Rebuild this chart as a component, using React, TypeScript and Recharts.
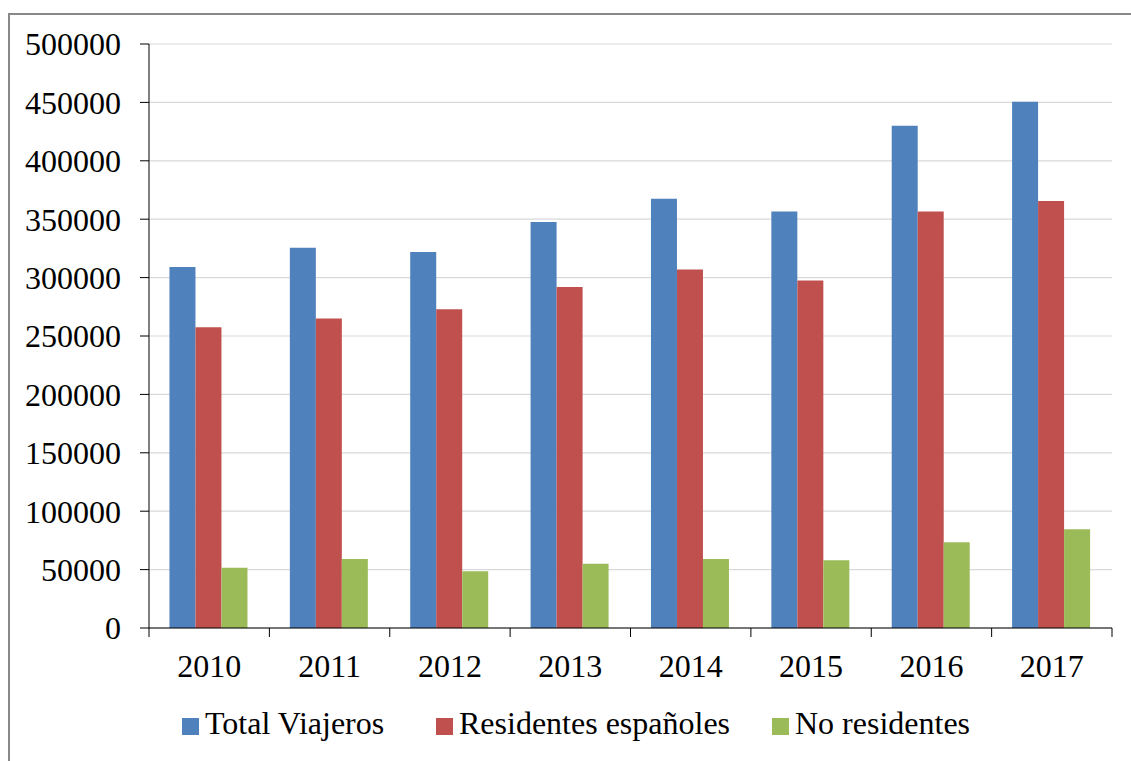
import React from "react";
import { BarChart, Bar, XAxis, YAxis, CartesianGrid } from "recharts";

const years = ["2010", "2011", "2012", "2013", "2014", "2015", "2016", "2017"];
const totalViajeros = [309000, 325500, 322000, 347500, 367500, 356500, 430000, 450500];
const residentesEspanoles = [257500, 265000, 273000, 292000, 307000, 297500, 356500, 365500];
const noResidentes = [51500, 59000, 48500, 55000, 59000, 58000, 73500, 84500];
const yTicks = [0, 50000, 100000, 150000, 200000, 250000, 300000, 350000, 400000, 450000, 500000];

const seriesKeys = ["total", "res", "nores"];
const seriesNames = ["Total Viajeros", "Residentes españoles", "No residentes"];
const seriesColors = ["#4F81BD", "#C0504D", "#9BBB59"];

const data = years.map((y, i) => ({
  year: y,
  total: totalViajeros[i],
  res: residentesEspanoles[i],
  nores: noResidentes[i],
}));

const W = 1131;
const H = 761;
const PLOT_LEFT = 149;
const PLOT_RIGHT = 1112;
const PLOT_TOP = 44;
const PLOT_BOTTOM = 628;
const FONT = "'Liberation Serif', 'Times New Roman', serif";
const FS = 32;
const band = (PLOT_RIGHT - PLOT_LEFT) / years.length;

const XTick = (props: any) => {
  const { x, y, payload, index } = props;
  const lx = x - band / 2;
  const rx = x + band / 2;
  return (
    <g>
      <line x1={lx} x2={lx} y1={PLOT_BOTTOM} y2={PLOT_BOTTOM + 9} stroke="#000" strokeWidth={1} />
      {index === years.length - 1 && (
        <line x1={rx} x2={rx} y1={PLOT_BOTTOM} y2={PLOT_BOTTOM + 9} stroke="#000" strokeWidth={1} />
      )}
      <text x={x} y={y} dy="0.71em" textAnchor="middle" fill="#000" fontSize={FS} fontFamily={FONT}>
        {payload.value}
      </text>
    </g>
  );
};

const legendLefts = [182, 436, 772];

export default function App() {
  return (
    <div style={{ position: "absolute", left: 0, top: 0, width: W, height: H, background: "#fff", overflow: "hidden" }}>
      <div style={{ position: "absolute", left: 8, top: 13, width: W - 8, height: 2, background: "#898989" }} />
      <div style={{ position: "absolute", left: 8, top: 13, width: 2, height: H - 13, background: "#898989" }} />
      <div style={{ position: "absolute", left: 0, top: 0 }}>
        <BarChart
          width={W}
          height={H}
          data={data}
          margin={{ top: PLOT_TOP, right: W - PLOT_RIGHT, left: 0, bottom: 0 }}
          barCategoryGap="17%"
          barGap={0}
        >
          <CartesianGrid vertical={false} stroke="#D9D9D9" strokeWidth={1.2} />
          <XAxis
            dataKey="year"
            height={H - PLOT_BOTTOM}
            tickLine={false}
            tickSize={9}
            tickMargin={17}
            axisLine={{ stroke: "#000", strokeWidth: 1 }}
            tick={<XTick />}
            interval={0}
          />
          <YAxis
            width={PLOT_LEFT}
            domain={[0, 500000]}
            ticks={yTicks}
            interval={0}
            tickSize={9}
            tickMargin={19}
            axisLine={{ stroke: "#000", strokeWidth: 1 }}
            tickLine={{ stroke: "#000", strokeWidth: 1 }}
            tick={{ fill: "#000", fontSize: FS, fontFamily: FONT }}
          />
          {seriesKeys.map((k, i) => (
            <Bar key={k} dataKey={k} name={seriesNames[i]} fill={seriesColors[i]} isAnimationActive={false} />
          ))}
        </BarChart>
      </div>
      <div style={{ position: "absolute", left: 0, top: 700, width: W, height: 40 }}>
        {seriesNames.map((name, i) => (
          <div key={name}>
            <div
              style={{
                position: "absolute",
                left: legendLefts[i],
                top: 18,
                width: 17,
                height: 17,
                background: seriesColors[i],
              }}
            />
            <span
              style={{
                position: "absolute",
                left: legendLefts[i] + 23,
                top: 7,
                fontFamily: FONT,
                fontSize: FS,
                lineHeight: "32px",
                color: "#000",
                whiteSpace: "nowrap",
              }}
            >
              {name}
            </span>
          </div>
        ))}
      </div>
    </div>
  );
}
